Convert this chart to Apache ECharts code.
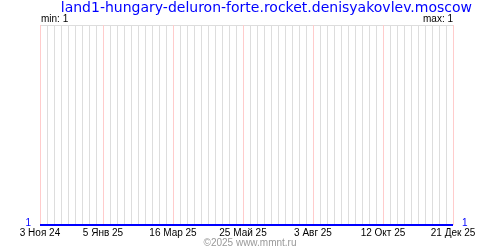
<!DOCTYPE html>
<html>
<head>
<meta charset="utf-8">
<script src="https://cdn.jsdelivr.net/npm/echarts@6/dist/echarts.min.js"></script>
<style>html,body{margin:0;padding:0;background:#fff}#c{width:500px;height:250px}</style>
</head>
<body>
<div id="c"></div>
<script>
// Days since 3 Nov 2024
var titleText = 'land1-hungary-deluron-forte.rocket.denisyakovlev.moscow';
var labelDays = [0, 63, 133, 203, 273, 343, 413];
var tickLabels = ['3 Ноя 24', '5 Янв 25', '16 Мар 25', '25 Май 25', '3 Авг 25', '12 Окт 25', '21 Дек 25'];
var seriesDays = [0, 63, 133, 203, 273, 343, 413];
var seriesValues = [1, 1, 1, 1, 1, 1, 1];
var minText = 'min: 1';
var maxText = 'max: 1';
var copyright = '©2025 www.mmnt.ru';

var FONT = 'Liberation Sans';
var labelMap = {};
labelDays.forEach(function (d, i) { labelMap[d] = tickLabels[i]; });

var data = seriesDays.map(function (d, i) {
  var item = { value: [d, seriesValues[i]] };
  if (i === 0) item.label = { show: true, position: 'left', distance: 9, offset: [0, -2] };
  else if (i === seriesDays.length - 1) item.label = { show: true, position: 'right', distance: 9, offset: [0, -2] };
  return item;
});

var chart = echarts.init(document.getElementById('c'), null, { renderer: 'canvas' });
chart.setOption({
  animation: false,
  backgroundColor: '#ffffff',
  title: [
    { text: titleText, right: 28, top: 1, padding: 0, textStyle: { color: '#0000ff', fontFamily: 'DejaVu Sans', fontSize: 14, fontWeight: 'normal' } },
    { text: minText, left: 41, top: 14, padding: 0, textStyle: { color: '#000', fontFamily: FONT, fontSize: 10, fontWeight: 'normal' } },
    { text: maxText, right: 47, top: 14, padding: 0, textStyle: { color: '#000', fontFamily: FONT, fontSize: 10, fontWeight: 'normal' } },
    { text: copyright, left: 'center', top: 238, padding: 0, textStyle: { color: '#999', fontFamily: FONT, fontSize: 10, fontWeight: 'normal' } }
  ],
  grid: { left: 40, right: 47, top: 25, bottom: 25, containLabel: false },
  xAxis: [{
    type: 'value', min: 0, max: 413, interval: 7, z: 0,
    axisLine: { show: false }, axisTick: { show: false }, axisLabel: { show: false },
    splitLine: { show: true, lineStyle: { color: '#dddddd', width: 1 } }
  }, {
    type: 'value', min: 0, max: 413, position: 'bottom', z: 3,
    axisLine: { show: false },
    splitLine: { show: true, showMinLine: true, showMaxLine: true, lineStyle: { color: '#ffcccc', width: 1, type: 'solid' } },
    axisTick: { show: false, customValues: labelDays },
    axisLabel: {
      margin: 3, color: '#000', fontFamily: FONT, fontSize: 10,
      customValues: labelDays,
      showMinLabel: true, showMaxLabel: true,
      formatter: function (v) { return labelMap[v] || ''; }
    }
  }],
  yAxis: {
    type: 'value', min: 1, max: 2, interval: 1,
    axisLine: { show: false }, axisTick: { show: false }, axisLabel: { show: false },
    splitLine: { show: true, lineStyle: { color: '#dddddd', width: 1 } }
  },
  series: [{
    type: 'line',
    xAxisIndex: 0,
    data: data,
    showSymbol: true,
    symbol: 'circle',
    symbolSize: 0,
    lineStyle: { color: '#0000ff', width: 2 },
    itemStyle: { color: '#0000ff' },
    label: { show: false, color: '#0000ff', fontFamily: FONT, fontSize: 10, formatter: function (p) { return String(p.value[1]); } },
    z: 5
  }]
});
</script>
</body>
</html>
